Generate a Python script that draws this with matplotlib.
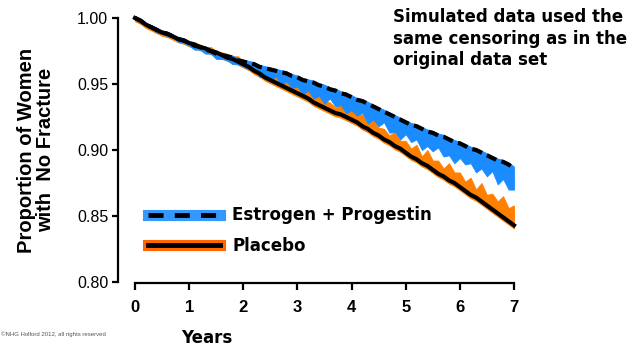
import numpy as np
import matplotlib.pyplot as plt
from matplotlib.lines import Line2D

# years on a 0.1 grid, 0..7
years = np.round(np.arange(0, 7.01, 0.1), 1)

# Kaplan-Meier style curves
ep_curve = [1.000, 0.998, 0.995, 0.993, 0.991, 0.989, 0.988, 0.986, 0.984, 0.983,
            0.981, 0.979, 0.978, 0.976, 0.975, 0.973, 0.972, 0.971, 0.970, 0.968,
            0.967, 0.966, 0.965, 0.963, 0.962, 0.961, 0.960, 0.959, 0.958, 0.956,
            0.955, 0.953, 0.952, 0.951, 0.949, 0.948, 0.946, 0.945, 0.943, 0.942,
            0.940, 0.938, 0.937, 0.935, 0.933, 0.931, 0.929, 0.927, 0.925, 0.923,
            0.921, 0.919, 0.918, 0.916, 0.914, 0.913, 0.911, 0.910, 0.908, 0.906,
            0.905, 0.903, 0.901, 0.900, 0.898, 0.896, 0.894, 0.892, 0.891, 0.889,
            0.886]
pl_curve = [1.000, 0.998, 0.995, 0.993, 0.991, 0.989, 0.988, 0.986, 0.984, 0.983,
            0.981, 0.980, 0.978, 0.977, 0.975, 0.974, 0.972, 0.970, 0.969, 0.967,
            0.965, 0.963, 0.960, 0.958, 0.955, 0.953, 0.951, 0.949, 0.947, 0.945,
            0.943, 0.941, 0.939, 0.936, 0.934, 0.932, 0.930, 0.928, 0.927, 0.925,
            0.923, 0.921, 0.918, 0.916, 0.913, 0.911, 0.908, 0.906, 0.903, 0.901,
            0.898, 0.895, 0.893, 0.890, 0.888, 0.885, 0.882, 0.880, 0.877, 0.875,
            0.872, 0.869, 0.866, 0.864, 0.861, 0.858, 0.855, 0.852, 0.849, 0.846,
            0.843]

# spread of simulated curves (thousandths) around the black lines
ep_low = [1, 1, 1, 1, 2, 1, 2, 1, 2, 2, 2,
          3, 2, 3, 2, 4, 3, 3, 5, 3, 4,
          5, 4, 8, 5, 9, 4, 10, 6, 9, 7,
          11, 7, 12, 8, 13, 7, 12, 9, 14, 10,
          12, 9, 15, 10, 13, 8, 14, 11, 15, 9,
          13, 10, 16, 11, 14, 9, 15, 12, 16, 11,
          14, 11, 17, 12, 16, 10, 18, 13, 19, 16]
pl_high = [0, 0, 0, 0, 0, 1, 0, 1, 0, 1, 1,
           1, 2, 1, 3, 1, 2, 3, 2, 4, 2,
           3, 5, 2, 6, 3, 5, 4, 7, 3, 6,
           4, 7, 3, 8, 5, 6, 4, 8, 5, 7,
           5, 9, 4, 10, 6, 8, 5, 11, 6, 9,
           6, 11, 5, 12, 7, 10, 6, 13, 8, 11,
           7, 13, 6, 14, 8, 12, 9, 16, 10, 15]

blue = '#1a8cff'
orange = '#ff8000'

ep = np.array(ep_curve)
pl = np.array(pl_curve)

fig = plt.figure(figsize=(6.38, 3.48), dpi=100)
ax = fig.add_axes([118 / 638, 0.1859, 399.2 / 638, 0.770])

ax.fill_between(years, pl - 0.0025, pl + np.array(pl_high) / 1000,
                color=orange, lw=0.6)
ax.fill_between(years, ep - np.array(ep_low) / 1000, ep + 0.0015,
                color=blue, lw=0.6)
ax.plot(years, pl, color='black', lw=3)
ax.plot(years, ep, color='black', lw=3, dashes=(2.5, 1.3))

ax.set_xlim(-0.314, 7.06)
ax.set_ylim(0.799, 1.002)
ax.spines['top'].set_visible(False)
ax.spines['right'].set_visible(False)
ax.spines['left'].set_bounds(0.8, 1.0)
ax.spines['bottom'].set_bounds(0, 7)
ax.spines['left'].set_linewidth(1.6)
ax.spines['bottom'].set_linewidth(1.6)

ax.set_yticks([0.80, 0.85, 0.90, 0.95, 1.00])
ax.set_yticklabels(['0.80', '0.85', '0.90', '0.95', '1.00'],
                   family='Liberation Sans', fontsize=11.5)
ax.set_xticks(range(8))
ax.set_xticklabels([str(i) for i in range(8)], family='Liberation Sans',
                   fontsize=12, fontweight='bold')
ax.tick_params(axis='both', width=1.6, length=4, pad=3)
ax.tick_params(axis='x', length=5, pad=7)

fig.text(36 / 638, 1 - 150 / 348, 'Proportion of Women\nwith  No Fracture',
         family='Liberation Sans', fontsize=14.5, fontweight='bold',
         rotation=90, ha='center', va='center', linespacing=0.95)

fig.text(207 / 638, 1 - 338 / 348, 'Years', fontsize=12, fontweight='bold',
         ha='center', va='center')

fig.text(393 / 638, 1 - 8 / 348,
         'Simulated data used the\nsame censoring as in the\noriginal data set',
         fontsize=12, fontweight='bold', ha='left', va='top', linespacing=1.25)

fig.text(106 / 638, 1 - 334 / 348, '\u00a9NHG Holford 2012, all rights reserved',
         family='Liberation Sans', fontsize=4.3, color='#555555', ha='right', va='center')

h_ep = (Line2D([], [], color='#3399ff', lw=8),
        Line2D([], [], color='black', lw=3.5, dashes=(3.1, 2.3)))
h_pl = (Line2D([], [], color='#ff6600', lw=8),
        Line2D([], [], color='black', lw=3.5))
leg = ax.legend([h_ep, h_pl], ['Estrogen + Progestin', 'Placebo'],
                loc='lower left', bbox_to_anchor=(0.038, 0.05), frameon=False,
                handlelength=4.3, handletextpad=0.75, labelspacing=0.75,
                prop={'weight': 'bold', 'size': 12})

fig.savefig('out.png', dpi=100)
